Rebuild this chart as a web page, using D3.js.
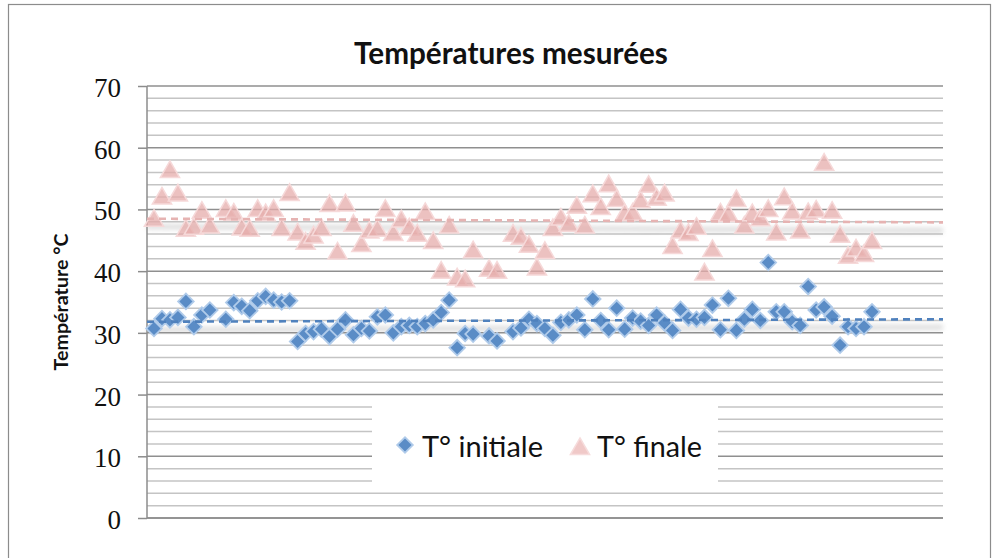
<!DOCTYPE html>
<html><head><meta charset="utf-8">
<script src="https://cdn.jsdelivr.net/npm/d3@7"></script>
<style>body{margin:0;background:#fff}svg{display:block}</style>
</head><body>
<svg id="c" width="999" height="558"></svg>
<script>
// ---- data ----
const tInitiale = [30.7,32.3,32.1,32.5,35.1,31.0,32.9,33.7,null,32.2,
  34.9,34.3,33.6,35.2,35.9,35.3,35.0,35.2,28.6,29.9,
  30.2,30.6,29.4,30.6,32.1,29.7,30.7,30.3,32.6,32.9,
  30.0,31.0,31.2,31.0,31.5,32.1,33.3,35.3,27.6,29.9,
  29.8,null,29.5,28.7,null,30.2,30.8,32.2,31.5,30.7,
  29.6,31.7,32.1,32.9,30.5,35.5,32.0,30.5,34.0,30.6,
  32.4,31.9,31.2,32.9,31.6,30.4,33.8,32.4,32.2,32.5,
  34.5,30.5,35.6,30.4,32.2,33.8,32.0,41.4,33.4,33.4,
  31.8,31.2,37.5,33.7,34.2,32.7,28.0,31.0,30.7,31.0,33.4];
const tFinale = [48.6,52.2,56.5,52.7,47.0,47.3,49.9,47.5,null,50.2,
  49.6,47.2,47.0,50.2,49.5,50.2,47.1,52.8,46.4,44.9,
  45.9,47.1,51.0,43.3,51.1,47.8,44.5,46.7,47.0,50.2,
  46.3,48.5,47.2,46.2,49.7,45.0,40.2,47.5,39.1,38.8,
  43.5,null,40.5,40.2,null,46.2,45.7,44.4,40.7,43.4,
  47.1,48.8,47.8,50.7,47.5,52.6,50.5,54.2,51.8,49.5,
  49.6,51.6,54.1,52.0,52.7,44.2,46.7,46.3,47.3,39.9,
  43.7,49.6,49.4,51.8,47.5,49.5,48.7,50.2,46.4,52.1,
  49.8,46.7,49.7,50.1,57.7,49.9,46.0,42.6,43.8,42.9,45.0];
const categories = tInitiale.map((d, i) => i + 1);
const trendInitiale = [31.8, 32.2];   // trendline value at plot start / end
const trendFinale = [48.5, 47.9];
const yTicks = [0, 10, 20, 30, 40, 50, 60, 70];
const chartTitle = "Températures mesurées";
const yTitle = "Température °C";
const seriesNames = ["T° initiale", "T° finale"];

// ---- layout ----
const svg = d3.select("#c");
const L = 147, R = 943, T = 86, B = 518;
const y = d3.scaleLinear().domain([0, 70]).range([B, T]);
const x = d3.scaleLinear().domain([1, categories.length]).range([154, 872]);

const defs = svg.append("defs");
defs.append("filter").attr("id", "blur").attr("x", "-5%").attr("y", "-200%").attr("width", "110%").attr("height", "500%")
  .append("feGaussianBlur").attr("stdDeviation", 2.5);

svg.append("rect").attr("x", 8.5).attr("y", 4.5).attr("width", 982).attr("height", 580)
  .attr("fill", "#fff").attr("stroke", "#8c8c8c").attr("stroke-width", 1.2);

// gridlines
const g = svg.append("g");
g.selectAll("line.minor").data(y.ticks(35)).join("line")
  .attr("x1", L).attr("x2", R).attr("y1", d => y(d)).attr("y2", d => y(d))
  .attr("stroke", d => d % 10 === 0 ? "#8f8f8f" : "#c4c4c4").attr("stroke-width", 1.5);

// legend background
svg.append("rect").attr("x", 372).attr("y", 405).attr("width", 346).attr("height", 87).attr("fill", "#fff");

// axes
const ya = svg.append("g").attr("transform", `translate(${L},0)`)
  .call(d3.axisLeft(y).tickValues(yTicks).tickSize(9).tickFormat(d3.format("d")));
ya.select(".domain").attr("stroke", "#8c8c8c").attr("stroke-width", 1.5).attr("d", `M0,${B}V${T}`);
ya.selectAll(".tick line").attr("stroke", "#8c8c8c").attr("stroke-width", 1.5);
ya.selectAll(".tick text").attr("font-family", "'Liberation Serif', 'DejaVu Serif', serif")
  .attr("font-size", 27).attr("fill", "#111").attr("x", -26).attr("dy", 10.5).attr("dominant-baseline", "auto");
svg.append("line").attr("x1", L).attr("x2", R).attr("y1", B).attr("y2", B)
  .attr("stroke", "#8c8c8c").attr("stroke-width", 1.5);

function fit(sel, w) {
  const fs = +sel.attr("font-size");
  const len = sel.node().getComputedTextLength();
  sel.attr("font-size", fs * w / len);
}

// titles
const tt = svg.append("text").text(chartTitle).attr("x", 511).attr("y", 64)
  .attr("text-anchor", "middle").attr("font-family", "Lato, 'Open Sans', sans-serif")
  .attr("font-weight", "bold").attr("font-size", 24).attr("fill", "#111");
fit(tt, 314);
const yt = svg.append("text").text(yTitle)
  .attr("transform", `translate(68,${(T + B) / 2}) rotate(-90)`)
  .attr("text-anchor", "middle").attr("font-family", "Lato, 'Open Sans', sans-serif")
  .attr("font-weight", "bold").attr("font-size", 16).attr("fill", "#111");
fit(yt, 137);

// marker generators
const diamond = d3.symbol(d3.symbolSquare, 122)();
const triangle = d3.symbol(d3.symbolTriangle, 160)();

// trendlines with shadow
function trend(vals, color) {
  svg.append("line").attr("x1", L).attr("x2", R)
    .attr("y1", y(vals[0]) + 8).attr("y2", y(vals[1]) + 8)
    .attr("stroke", "#9a9a9a").attr("stroke-width", 5).attr("opacity", 0.35).attr("filter", "url(#blur)");
  return () => svg.append("line").attr("x1", L).attr("x2", R)
    .attr("y1", y(vals[0])).attr("y2", y(vals[1]))
    .attr("stroke", color).attr("stroke-width", 2.6).attr("stroke-dasharray", "7,5");
}
const drawTI = trend(trendInitiale, "#4f81bd");
const drawTF = trend(trendFinale, "#e6b3b2");

// series
const pts = categories.map((c, i) => ({c, a: tInitiale[i], b: tFinale[i]}));
svg.append("g").selectAll("path").data(pts.filter(d => d.a != null)).join("path")
  .attr("d", diamond)
  .attr("transform", d => `translate(${x(d.c)},${y(d.a)}) rotate(45)`)
  .attr("fill", "#5a8cc6").attr("stroke", "#b0cbea").attr("stroke-width", 1.8);
svg.append("g").selectAll("path").data(pts.filter(d => d.b != null)).join("path")
  .attr("d", triangle)
  .attr("transform", d => `translate(${x(d.c)},${y(d.b) + 2.7})`)
  .attr("fill", "#e6acab").attr("fill-opacity", 0.75).attr("stroke", "#f6d9d9").attr("stroke-width", 1.5);
drawTI(); drawTF();

// legend
svg.append("path").attr("d", diamond).attr("transform", "translate(405,445) rotate(45)")
  .attr("fill", "#5a8cc6").attr("stroke", "#b0cbea").attr("stroke-width", 1.8);
const l1 = svg.append("text").text(seriesNames[0]).attr("x", 422).attr("y", 457)
  .attr("font-family", "Lato, 'Open Sans', sans-serif").attr("font-size", 30).attr("fill", "#111");
fit(l1, 121);
svg.append("path").attr("d", triangle).attr("transform", "translate(580,449)")
  .attr("fill", "#f0c9c8").attr("stroke", "#f6dcdc").attr("stroke-width", 1.5);
const l2 = svg.append("text").text(seriesNames[1]).attr("x", 597).attr("y", 457)
  .attr("font-family", "Lato, 'Open Sans', sans-serif").attr("font-size", 30).attr("fill", "#111");
fit(l2, 105);
</script>
</body></html>
